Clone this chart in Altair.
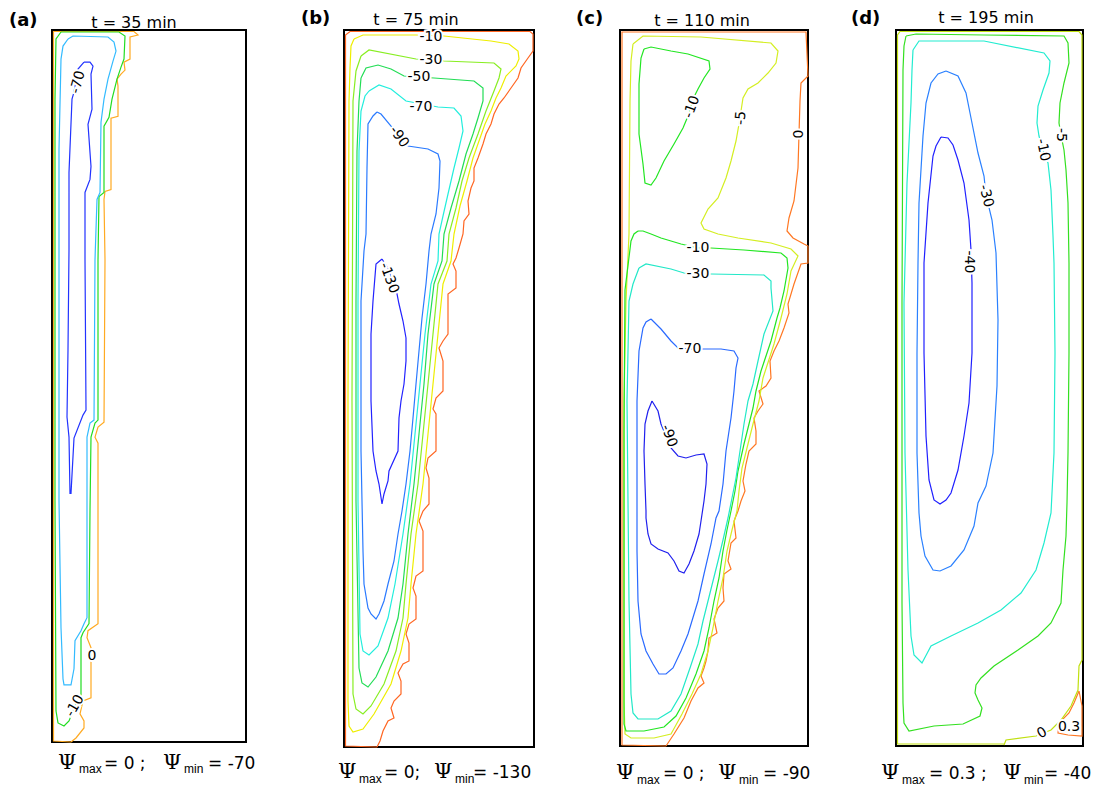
import altair as alt
import pandas as pd

# ---------------- chart values ----------------
LETTERS = ["(a)", "(b)", "(c)", "(d)"]
TIMES = ["35", "75", "110", "195"]
PSI_MAX = ["0", "0", "0", "0.3"]
PSI_MIN = ["-70", "-130", "-90", "-40"]

# cavity size (grid units: x from left wall, y = depth from top wall)
CAV_W = [194, 190, 188, 187]
CAV_H = [710, 717, 716, 716]

# ---- (a) t = 35 min ----
A_PSI_0 = [(19,710),(24,706),(32,696),(32,689),(28,682),(31,669),(39,666),(39,616),(35,606),(36,599),
           (46,592),(46,412),(43,406),(46,396),(52,391),(53,229),(52,169),(53,161),(59,159),(59,88),
           (66,86),(66,56),(65,49),(69,44),(73,40),(72,32),(78,29),(78,7),(86,5),(82,1.5),(1.5,1.5),
           (1.5,709),(19,710)]
A_PSI_M10 = [(9,2),(67,2),(73,6),(72,29),(69,37),(65,49),(60,69),(57,87),(52,96),(52,162),(47,166),
             (46,229),(46,389),(43,392),(39,406),(38,479),(37,592),(31,601),(29,606),(29,666),(25,669),
             (17,689),(12,694),(6,691),(4,679),(3,469),(3,69),(4,9),(9,2)]
A_PSI_M40 = [(16,9),(21,6),(56,7),(62,12),(64,21),(61,31),(56,49),(52,69),(49,92),(48,162),(45,169),
             (43,229),(42,389),(38,392),(35,406),(35,479),(35,586),(32,592),(29,599),(23,609),(22,637),
             (19,653),(12,653),(11,647),(9,596),(7,469),(7,119),(9,29),(11,16),(16,9)]
A_PSI_M70 = [(32,32),(38,32),(41,36),(39,44),(40,79),(36,94),(39,136),(38,149),(33,162),(33,229),
             (34,379),(31,384),(22,407),(19,462),(18,462),(17,406),(15,386),(16,319),(17,219),(17,142),
             (20,69),(22,62),(26,39),(32,32)]
A_LABELS = [("-70", 26, 52, 285), ("0", 40, 624, 0), ("-10", 23, 674, 300)]

# ---- (b) t = 75 min ----
B_PSI_0 = [(33,717),(36,711),(39,701),(44,691),(50,688),(47,678),(50,671),(57,664),(57,651),(54,643),
           (59,634),(65,631),(65,613),(62,604),(65,594),(72,589),(72,566),(69,558),(72,546),(79,541),
           (79,501),(75,491),(79,481),(85,474),(85,448),(82,438),(84,428),(92,421),(92,384),(89,379),
           (92,368),(99,361),(99,331),(95,318),(99,311),(104,304),(104,264),(112,258),(112,241),(109,234),
           (112,228),(115,218),(119,204),(120,191),(125,184),(124,171),(127,158),(130,151),(130,138),
           (134,128),(139,114),(142,104),(147,94),(150,84),(155,74),(160,68),(167,58),(174,48),(177,38),
           (184,28),(189,21),(189,4),(186,1.5),(6,1.5),(1.5,5),(1.5,716),(33,717)]
B_PSI_M10 = [(10,9),(19,5),(72,5),(100,6),(147,11),(165,14),(174,21),(175,29),(172,36),(162,46),
             (157,58),(152,68),(147,81),(141,94),(135,111),(129,128),(123,151),(116,176),(110,204),
             (107,231),(99,254),(94,304),(89,354),(84,404),(79,454),(72,504),(67,554),(64,588),(57,621),
             (47,654),(30,684),(19,699),(9,702),(5,696),(4,671),(4,371),(5,71),(6,38),(7,16),(10,9)]
B_PSI_M30 = [(17,26),(25,20),(72,29),(100,31),(150,33),(157,39),(155,48),(150,61),(142,81),(134,104),
             (125,128),(118,151),(112,178),(105,204),(103,231),(94,254),(89,304),(84,354),(79,404),
             (74,454),(67,504),(62,554),(59,588),(52,621),(40,654),(27,676),(19,684),(12,679),(9,664),
             (8,371),(9,71),(12,41),(17,26)]
B_PSI_M50 = [(17,48),(22,38),(34,35),(47,39),(60,46),(90,48),(130,51),(139,58),(139,71),(134,88),
             (129,104),(122,124),(115,151),(107,178),(100,204),(98,231),(90,254),(84,304),(80,354),
             (75,404),(70,454),(64,504),(59,554),(54,588),(44,621),(32,647),(24,657),(18,653),(15,638),
             (12,471),(12,271),(13,121),(15,71),(17,48)]
B_PSI_M70 = [(25,61),(35,55),(47,59),(62,71),(94,77),(110,78),(117,86),(119,101),(115,118),(110,138),
             (104,164),(99,186),(95,204),(94,231),(87,254),(81,304),(76,354),(71,404),(66,454),(59,504),
             (51,554),(44,588),(34,616),(25,625),(19,621),(16,604),(14,471),(14,271),(15,121),(17,81),
             (21,66),(25,61)]
B_PSI_M90 = [(33,82),(37,84),(47,96),(55,108),(64,116),(84,119),(94,124),(96,131),(95,158),(92,184),
             (87,204),(85,221),(82,254),(78,288),(75,321),(72,354),(69,388),(66,421),(62,454),(58,481),
             (54,504),(50,531),(44,554),(40,571),(35,584),(32,589),(27,584),(24,578),(20,554),(19,521),
             (17,421),(17,271),(20,221),(22,204),(23,138),(24,94),(29,86),(33,82)]
B_PSI_M130 = [(38,229),(32,234),(29,271),(27,304),(27,371),(29,421),(32,441),(35,454),(38,474),(40,464),
              (44,451),(45,441),(54,421),(55,388),(57,371),(60,354),(62,331),(62,308),(59,291),(55,274),
              (53,264),(45,240),(38,229)]
B_LABELS = [("-10", 87, 7, 0), ("-30", 87, 30, 0), ("-50", 75, 47, 0), ("-70", 77, 77, 0),
            ("-90", 55, 107, 55), ("-130", 45, 248, 70)]

# ---- (c) t = 110 min ----
C_PSI_0 = [(46,716),(2,715),(2,2),(186,2),(188,46),(181,53),(180,71),(179,104),(178,138),(174,171),
           (169,188),(167,201),(173,208),(184,214),(188,216),(188,233),(181,234),(174,254),(168,274),
           (169,283),(164,298),(159,311),(154,321),(150,331),(151,348),(146,356),(139,361),(143,374),
           (138,381),(134,388),(136,401),(136,414),(129,421),(126,434),(123,451),(125,461),(121,471),
           (118,481),(114,491),(116,508),(111,513),(108,531),(111,539),(104,544),(103,558),(104,571),
           (98,578),(94,589),(97,603),(89,608),(88,621),(86,631),(84,638),(81,646),(84,653),(78,658),
           (71,671),(64,688),(54,704),(46,716)]
C_PSI_M5 = [(13,14),(23,6),(81,7),(151,13),(158,21),(156,33),(148,43),(138,53),(128,59),(123,68),
            (121,81),(119,94),(116,111),(111,131),(106,148),(98,168),(88,179),(81,193),(84,199),(98,204),
            (118,208),(151,213),(171,219),(178,226),(171,241),(167,264),(161,288),(154,314),(143,348),
            (139,371),(133,394),(127,418),(122,438),(119,461),(117,481),(112,500),(107,521),(103,548),
            (98,571),(93,598),(88,621),(81,644),(72,664),(62,684),(51,704),(34,708),(11,708),(5,704),
            (4,671),(4,371),(6,271),(9,204),(10,71),(11,31),(13,14)]
C_PSI_M10_TOP = [(24,19),(31,17),(51,21),(68,24),(89,31),(90,39),(84,48),(78,59),(73,69),(68,86),(63,98),
                 (54,114),(44,131),(36,148),(31,155),(25,153),(23,134),(19,104),(19,54),(21,28),(24,19)]
C_PSI_M10_LOW = [(18,201),(23,201),(31,204),(41,208),(61,214),(78,218),(91,218),(124,220),(161,223),
                 (167,228),(168,238),(164,261),(160,278),(157,288),(151,311),(141,341),(136,361),
                 (133,378),(129,394),(124,414),(118,441),(115,461),(111,481),(107,500),(103,521),(99,548),
                 (94,571),(89,598),(84,621),(76,644),(66,668),(56,686),(44,697),(24,701),(6,701),(4,694),
                 (4,400),(5,260),(11,211),(14,204),(18,201)]
C_PSI_M30 = [(19,238),(26,234),(51,239),(64,243),(91,244),(144,245),(151,251),(151,258),(153,281),
             (144,304),(138,331),(133,354),(128,371),(124,394),(120,421),(116,448),(112,468),(108,488),
             (103,510),(98,531),(93,551),(88,571),(83,591),(78,614),(70,638),(61,664),(51,681),(38,689),
             (18,689),(13,683),(11,664),(9,571),(7,371),(9,271),(13,254),(19,238)]
C_PSI_M70 = [(31,289),(26,292),(23,298),(19,321),(17,371),(17,421),(17,521),(18,571),(21,604),(26,621),
             (33,634),(39,644),(46,644),(53,638),(61,621),(68,604),(78,571),(84,544),(91,514),(96,488),
             (99,481),(103,454),(106,421),(111,388),(114,361),(116,338),(118,328),(114,321),(101,319),
             (84,319),(71,319),(58,318),(51,311),(41,299),(31,289)]
C_PSI_M90 = [(32,371),(28,381),(25,394),(24,421),(25,454),(26,481),(26,488),(28,504),(31,514),(38,519),
             (48,523),(54,531),(59,541),(64,543),(69,534),(74,521),(79,504),(81,491),(84,471),(86,454),
             (87,434),(84,424),(76,425),(66,428),(58,426),(51,418),(41,394),(38,381),(32,371)]
C_LABELS = [("-10", 72, 77, 290), ("-5", 121, 88, 275), ("0", 179, 104, 270), ("-10", 78, 218, 0),
            ("-30", 78, 244, 0), ("-70", 70, 319, 0), ("-90", 49, 406, 70)]

# ---- (d) t = 195 min ----
D_PSI_P03 = [(183,661),(186,676),(186,706),(172,705),(162,703),(163,693),(173,683),(178,673),(183,661)]
D_PSI_0 = [(108,715),(110,710),(140,706),(155,700),(165,690),(175,676),(182,660),(183,636),(186,630),
           (186,5),(183,1.5),(4,1.5),(1.5,5),(1.5,714),(108,714)]
D_PSI_M5 = [(10,6),(20,4),(88,5),(168,6),(172,13),(173,33),(168,53),(164,73),(163,93),(165,105),
            (168,120),(170,140),(172,173),(173,233),(173,323),(172,423),(171,473),(170,506),(167,540),
            (165,573),(155,593),(142,606),(122,620),(98,636),(85,648),(80,655),(79,663),(82,670),
            (86,678),(84,686),(67,694),(38,696),(13,701),(8,693),(7,673),(6,573),(6,273),(7,40),(8,16),(10,6)]
D_PSI_M10 = [(17,20),(23,11),(88,11),(148,23),(154,31),(153,43),(147,60),(142,76),(141,93),(143,106),
             (147,120),(152,133),(155,160),(157,206),(158,233),(159,323),(158,423),(155,483),(148,513),
             (140,540),(125,563),(105,580),(82,593),(55,606),(35,616),(26,633),(18,625),(15,606),(12,540),
             (9,423),(8,273),(11,153),(15,73),(16,40),(17,20)]
D_PSI_M30 = [(50,41),(42,44),(35,53),(30,73),(27,106),(23,173),(22,233),(21,323),(21,423),(23,483),
             (25,506),(29,526),(37,540),(44,541),(55,536),(68,520),(78,496),(82,473),(90,456),(97,423),
             (101,356),(102,290),(100,223),(96,190),(90,165),(88,146),(82,123),(75,88),(70,63),(62,46),(50,41)]
D_PSI_M40 = [(45,107),(52,108),(57,115),(62,130),(68,153),(73,190),(75,220),(76,253),(76,323),(73,373),
             (68,406),(62,440),(55,463),(50,470),(44,474),(38,470),(33,450),(30,406),(28,323),(28,233),
             (32,173),(37,126),(40,116),(45,107)]
D_LABELS = [("-5", 165, 105, 90), ("-10", 147, 120, 78), ("-30", 90, 166, 75), ("-40", 73, 232, 90),
            ("0", 146, 703, 330), ("0.3", 173, 697, 0)]

PANELS = [
    [("0", A_PSI_0), ("-10", A_PSI_M10), ("-40", A_PSI_M40), ("-70", A_PSI_M70)],
    [("0", B_PSI_0), ("-10", B_PSI_M10), ("-30", B_PSI_M30), ("-50", B_PSI_M50),
     ("-70", B_PSI_M70), ("-90", B_PSI_M90), ("-130", B_PSI_M130)],
    [("0", C_PSI_0), ("-5", C_PSI_M5), ("-10", C_PSI_M10_TOP), ("-10", C_PSI_M10_LOW),
     ("-30", C_PSI_M30), ("-70", C_PSI_M70), ("-90", C_PSI_M90)],
    [("0.3", D_PSI_P03), ("0", D_PSI_0), ("-5", D_PSI_M5), ("-10", D_PSI_M10),
     ("-30", D_PSI_M30), ("-40", D_PSI_M40)],
]
LABELS = [A_LABELS, B_LABELS, C_LABELS, D_LABELS]

# ---------------- styles ----------------
COLORS = [
    {"0": "#ffaa22", "-10": "#22dd22", "-40": "#33bbff", "-70": "#2233ff"},
    {"0": "#ff6622", "-10": "#eeee00", "-30": "#88ee22", "-50": "#22dd55", "-70": "#22eedd",
     "-90": "#2a7aff", "-130": "#2222ff"},
    {"0": "#ff7722", "-5": "#d4ee22", "-10": "#22e622", "-30": "#22e8c8", "-70": "#2a6aff", "-90": "#2020ee"},
    {"0.3": "#ff7722", "0": "#c0e010", "-5": "#33e020", "-10": "#22ecd0", "-30": "#2a80ff", "-40": "#2020ff"},
]
PANEL_W = [194, 190, 188, 187]
PANEL_H = [712, 717, 716, 716]
GAPS = [98, 86, 88]

# text placement (pixels relative to each panel's top-left)
LETTER_POS = [(-43, -4), (-43, -6), (-44, -6), (-45, -6)]
TITLE_POS = [(82, -2), (72, -5), (82, -4), (90, -7)]
EQ1 = ["= {} ;", "= {};", "= {} ;", "= {} ;"]
BOTTOM_X = [(6, 27, 52, 111, 132, 156), (-6, 15, 40, 90, 111, 129),
            (-4, 17, 43, 98, 119, 143), (-15, 6, 33, 107, 128, 148)]
BOTTOM_Y = [(739, 743), (748, 753), (749, 754), (749, 754)]

ONE = pd.DataFrame({"k": [0]})


def piece(text, x, y, font, size, align="left", weight="normal"):
    return alt.Chart(ONE).mark_text(
        text=text, font=font, fontSize=size, fontWeight=weight, align=align,
        baseline="alphabetic", color="black"
    ).encode(x=alt.value(x), y=alt.value(y))


def make_panel(k):
    rows = []
    for cid, (lev, pts) in enumerate(PANELS[k]):
        for i, (x, y) in enumerate(pts):
            rows.append(dict(cid=cid, level=lev, col=COLORS[k][lev], i=i, x=x, y=y))
    df = pd.DataFrame(rows)
    xs = alt.Scale(domain=[0, CAV_W[k]], nice=False, zero=False)
    ys = alt.Scale(domain=[0, CAV_H[k]], reverse=True, nice=False, zero=False)
    lines = alt.Chart(df).mark_line(strokeWidth=1.2).encode(
        x=alt.X("x:Q", scale=xs, axis=None),
        y=alt.Y("y:Q", scale=ys, axis=None),
        color=alt.Color("col:N", scale=None),
        detail="cid:N",
        order="i:Q",
    )
    ldf = pd.DataFrame(LABELS[k], columns=["t", "x", "y", "a"])
    enc = dict(
        x=alt.X("x:Q", scale=xs, axis=None),
        y=alt.Y("y:Q", scale=ys, axis=None),
        text="t:N",
        angle=alt.Angle("a:Q", scale=None),
    )
    halo = alt.Chart(ldf).mark_text(
        font="DejaVu Sans", fontSize=14, color="white", stroke="white", strokeWidth=4,
        align="center", baseline="middle"
    ).encode(**enc)
    txt = alt.Chart(ldf).mark_text(
        font="DejaVu Sans", fontSize=14, color="black", align="center", baseline="middle"
    ).encode(**enc)

    lx, ly = LETTER_POS[k]
    tx, ty = TITLE_POS[k]
    bx = BOTTOM_X[k]
    by, bs = BOTTOM_Y[k]
    pieces = [
        piece(LETTERS[k], lx, ly, "DejaVu Sans", 18, weight="bold"),
        piece("t = " + TIMES[k] + " min", tx, ty, "DejaVu Sans", 16, align="center"),
        piece("\u03a8", bx[0], by, "DejaVu Serif", 21),
        piece("max", bx[1], bs, "Liberation Sans", 12),
        piece(EQ1[k].format(PSI_MAX[k]), bx[2], by, "DejaVu Sans", 17),
        piece("\u03a8", bx[3], by, "DejaVu Serif", 21),
        piece("min", bx[4], bs, "Liberation Sans", 12),
        piece("= " + PSI_MIN[k], bx[5], by, "DejaVu Sans", 17),
    ]
    return alt.layer(lines, halo, txt, *pieces).properties(width=PANEL_W[k], height=PANEL_H[k])


def spacer(w):
    return alt.Chart(ONE).mark_point(opacity=0).encode(
        x=alt.value(0), y=alt.value(0)
    ).properties(width=w, height=10, view=alt.ViewBackground(strokeOpacity=0, fillOpacity=0))


items = []
for k in range(4):
    items.append(make_panel(k))
    if k < 3:
        items.append(spacer(GAPS[k]))

chart = alt.hconcat(*items, spacing=0, bounds="flush").properties(
    padding={"top": 1, "left": 0, "right": 0, "bottom": 0}
).configure_view(stroke="black", strokeWidth=2)

chart.save("out.html", embed_options={"renderer": "svg", "actions": False})
